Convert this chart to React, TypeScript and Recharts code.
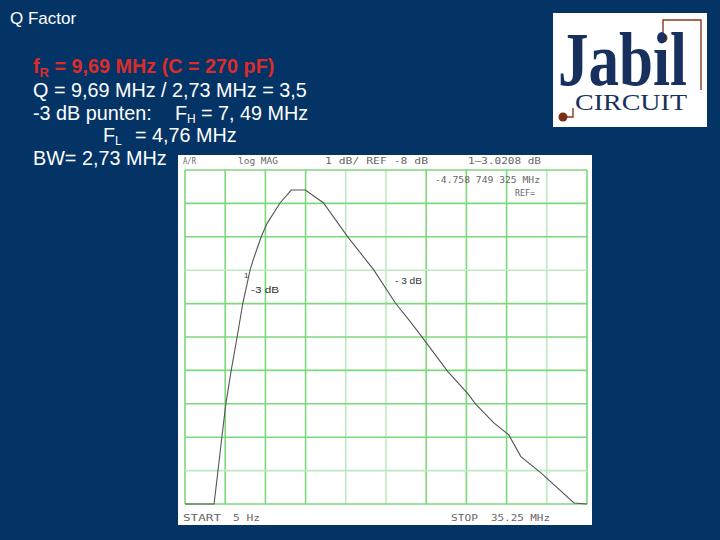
import React from 'react';
import { LineChart, Line, XAxis, YAxis, ReferenceLine } from 'recharts';

// network analyzer trace
const FREQ_MHZ = [0, 2.55, 3.23, 3.58, 4.04, 4.57, 5.07, 5.71, 5.98, 6.68, 7.21, 8.35, 9.32, 10.55, 12.13, 14.27, 16.55, 18.46, 19.63, 20.81, 23.01, 24.76, 25.49, 27.08, 28.39, 29.45, 31.21, 34.11, 35.25];
const MAG_DB = [-18, -18, -16.01, -15.01, -14.02, -13.0, -11.99, -10.99, -10.69, -10.0, -9.59, -8.98, -8.6, -8.6, -8.98, -10.0, -10.99, -11.99, -12.49, -13.01, -14.02, -14.68, -15.01, -15.57, -15.93, -16.58, -17.07, -17.97, -18];

const GRID_MHZ = [0, 3.525, 7.05, 10.575, 14.1, 17.625, 21.15, 24.675, 28.2, 31.725, 35.25];
const GRID_DB = [-8, -9, -10, -11, -12, -13, -14, -15, -16, -17, -18];
const FAINT_MHZ = [14.1, 17.625, 31.725];
const FAINT_DB = [-11, -17];

const BG = '#043466';
const GRID_ON = '#7bd97b';
const GRID_OFF = '#bfeabf';

const data = FREQ_MHZ.map((f, i) => ({ mhz: f, db: MAG_DB[i] }));

const sans = '"Liberation Sans", Arial, sans-serif';
const serif = '"Liberation Serif", "DejaVu Serif", serif';
const mono = '"DejaVu Sans Mono", monospace';

const Analyzer = () => (
  <div style={{ position: 'absolute', left: 178, top: 155, width: 414, height: 370, background: '#fff' }}>
    <LineChart width={414} height={370} data={data} margin={{ top: 15, right: 5, bottom: 21, left: 7 }}>
      <XAxis type="number" dataKey="mhz" domain={[0, 35.25]} hide />
      <YAxis type="number" domain={[-18, -8]} hide />
      {GRID_MHZ.map((g) => (
        <ReferenceLine key={`x${g}`} x={g} stroke={FAINT_MHZ.includes(g) ? GRID_OFF : GRID_ON} strokeWidth={1.6} />
      ))}
      {GRID_DB.map((g) => (
        <ReferenceLine key={`y${g}`} y={g} stroke={FAINT_DB.includes(g) ? GRID_OFF : GRID_ON} strokeWidth={1.6} />
      ))}
      <Line
        type="linear"
        dataKey="db"
        stroke="#555"
        strokeWidth={1.1}
        dot={false}
        isAnimationActive={false}
      />
    </LineChart>
  </div>
);

const Small = ({ x, y, w, children }: { x: number; y: number; w: number; children: React.ReactNode }) => (
  <text x={x} y={y} fontFamily={mono} fontSize={9} fill="#666" textLength={w} lengthAdjust="spacingAndGlyphs">
    {children}
  </text>
);

export default function App() {
  return (
    <div style={{ position: 'absolute', left: 0, top: 0, width: 720, height: 540, background: BG, overflow: 'hidden' }}>
      <Analyzer />
      <svg width={720} height={540} style={{ position: 'absolute', left: 0, top: 0, pointerEvents: 'none' }}>
        {/* slide text */}
        <text x={10} y={24} fontFamily={sans} fontSize={17} fill="#fff">Q Factor</text>
        <text x={33} y={73} fontFamily={sans} fontSize={19.8} fontWeight="bold" fill="#dc2b2b">
          f<tspan fontSize={13} dy={4}>R</tspan>
          <tspan dy={-4}> = 9,69 MHz (C = 270 pF)</tspan>
        </text>
        <text x={33} y={97} fontFamily={sans} fontSize={19.8} fill="#fff">Q = 9,69 MHz / 2,73 MHz = 3,5</text>
        <text x={33} y={120} fontFamily={sans} fontSize={19.8} fill="#fff">
          -3 dB punten:
          <tspan x={175}>F</tspan>
          <tspan fontSize={12} dy={3}>H</tspan>
          <tspan dy={-3} x={201}>= 7, 49 MHz</tspan>
        </text>
        <text x={103} y={142} fontFamily={sans} fontSize={19.8} fill="#fff">
          F<tspan fontSize={12} dy={3}>L</tspan>
          <tspan dy={-3} x={135}>= 4,76 MHz</tspan>
        </text>
        <text x={33} y={165} fontFamily={sans} fontSize={19.8} fill="#fff">BW= 2,73 MHz</text>

        {/* analyzer annotations */}
        <Small x={183} y={164} w={13}>A/R</Small>
        <Small x={238} y={164} w={40}>log MAG</Small>
        <Small x={325} y={164} w={103}>1 dB/ REF -8 dB</Small>
        <Small x={468} y={164} w={73}>1—3.0208 dB</Small>
        <Small x={435} y={183} w={105}>-4.758 749 325 MHz</Small>
        <Small x={515} y={196} w={20}>REF=</Small>
        <Small x={183} y={521} w={38}>START</Small>
        <Small x={233} y={521} w={27}>5 Hz</Small>
        <Small x={451} y={521} w={27}>STOP</Small>
        <Small x={491} y={521} w={59}>35.25 MHz</Small>
        <text x={244} y={278} fontFamily={sans} fontSize={8} fill="#333">1</text>
        <text x={251} y={293} fontFamily={sans} fontSize={9} fill="#333" textLength={28} lengthAdjust="spacingAndGlyphs">-3 dB</text>
        <text x={395} y={284} fontFamily={sans} fontSize={9} fill="#333" textLength={27} lengthAdjust="spacingAndGlyphs">- 3 dB</text>

        {/* logo */}
        <rect x={553} y={13} width={154} height={114} fill="#fff" />
        <polyline points="663,38 663,20 701,20 701,90" fill="none" stroke="#8a3b1c" strokeWidth={1.4} />
        <polyline points="563,117 573,117 573,108" fill="none" stroke="#8a3b1c" strokeWidth={1.4} />
        <circle cx={663} cy={38} r={4.5} fill="#7a2e12" />
        <circle cx={563} cy={117} r={4.5} fill="#7a2e12" />
        <text x={558} y={85} fontFamily={serif} fontSize={76} fontWeight="bold" fill="#17305d" textLength={129} lengthAdjust="spacingAndGlyphs">Jabil</text>
        <text x={575} y={110} fontFamily={serif} fontSize={23} fill="#17305d" textLength={112} lengthAdjust="spacingAndGlyphs">CIRCUIT</text>
      </svg>
    </div>
  );
}
